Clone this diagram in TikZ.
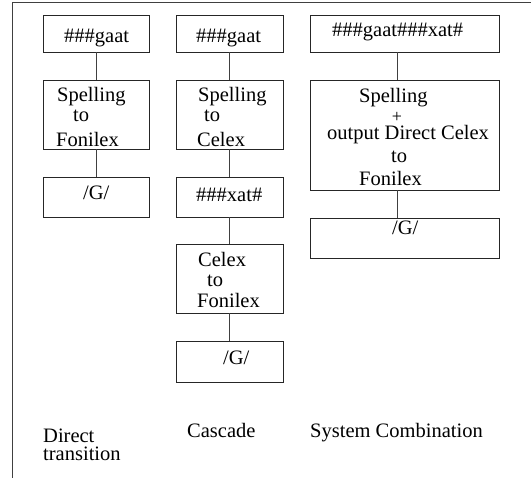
\documentclass[tikz,border=0pt]{standalone}
\usepackage{fontspec}
\setmainfont{Liberation Serif}
\begin{document}
\begin{tikzpicture}[x=1pt,y=-1pt,
  box/.style={draw=black!85, line width=0.8pt, rectangle, inner sep=0pt},
  link/.style={draw=black!75, line width=0.8pt},
  frame/.style={draw=black!75, line width=0.9pt},
  txt/.style={anchor=base west, inner sep=0pt, font=\fontsize{20.5}{24}\selectfont},
  small/.style={inner sep=0pt, font=\fontsize{18}{20}\selectfont}]
\useasboundingbox (0,0) rectangle (531,478);
% frame (top and left sides only)
\coordinate (fl) at (12,478);
\coordinate (fc) at (12,2);
\coordinate (fr) at (531,2);
\draw[frame] (fl) -- (fc) -- (fr);
% column 1: direct transition
\node[box, minimum width=106, minimum height=37] (c1a) at (96,33.5) {};
\node[box, minimum width=106, minimum height=69] (c1b) at (96,114.5) {};
\node[box, minimum width=106, minimum height=40] (c1c) at (96,197) {};
% column 2: cascade
\node[box, minimum width=107, minimum height=37] (c2a) at (229.5,33.5) {};
\node[box, minimum width=107, minimum height=69] (c2b) at (229.5,114.5) {};
\node[box, minimum width=107, minimum height=40] (c2c) at (229.5,197) {};
\node[box, minimum width=107, minimum height=69] (c2d) at (229.5,278.5) {};
\node[box, minimum width=107, minimum height=41] (c2e) at (229.5,361.5) {};
% column 3: system combination
\node[box, minimum width=189, minimum height=37] (c3a) at (404.5,33.5) {};
\node[box, minimum width=189, minimum height=110] (c3b) at (404.5,135) {};
\node[box, minimum width=189, minimum height=40] (c3c) at (404.5,238) {};
% connectors
\draw[link] (c1a) -- (c1b);
\draw[link] (c1b) -- (c1c);
\draw[link] (c2a) -- (c2b);
\draw[link] (c2b) -- (c2c);
\draw[link] (c2c) -- (c2d);
\draw[link] (c2d) -- (c2e);
\draw[link] ([xshift=-7.5pt]c3a.south) -- ([xshift=-7.5pt]c3b.north);
\draw[link] ([xshift=-7.5pt]c3b.south) -- ([xshift=-7.5pt]c3c.north);
% texts column 1
\node[txt] (t1a) at (64,43) {\#\#\#gaat};
\node[txt] (t1b) at (57,102) {Spelling};
\node[txt] (t1c) at (73,122) {to};
\node[txt] (t1d) at (56,147) {Fonilex};
\node[txt] (t1e) at (83,200) {/G/};
% texts column 2
\node[txt] (t2a) at (196,43) {\#\#\#gaat};
\node[txt] (t2b) at (198,102) {Spelling};
\node[txt] (t2c) at (204,122) {to};
\node[txt] (t2d) at (197,147) {Celex};
\node[txt] (t2e) at (196,202) {\#\#\#xat\#};
\node[txt] (t2f) at (198,267) {Celex};
\node[txt] (t2g) at (207,287) {to};
\node[txt] (t2h) at (197,308) {Fonilex};
\node[txt] (t2i) at (223,365) {/G/};
% texts column 3
\node[txt] (t3a) at (332,37) {\#\#\#gaat\#\#\#xat\#};
\node[txt] (t3b) at (359,103) {Spelling};
\node[small] (t3c) at (397,117) {+};
\node[txt] (t3d) at (327,140) {output Direct Celex};
\node[txt] (t3e) at (391,163) {to};
\node[txt] (t3f) at (359,186) {Fonilex};
\node[txt] (t3g) at (392,235) {/G/};
% captions
\node[txt, align=left, font=\fontsize{20.5}{18}\selectfont] (l1) at (43,461) {Direct\\transition};
\node[txt] (l2) at (187,438) {Cascade};
\node[txt] (l3) at (310,438) {System Combination};
\end{tikzpicture}
\end{document}
